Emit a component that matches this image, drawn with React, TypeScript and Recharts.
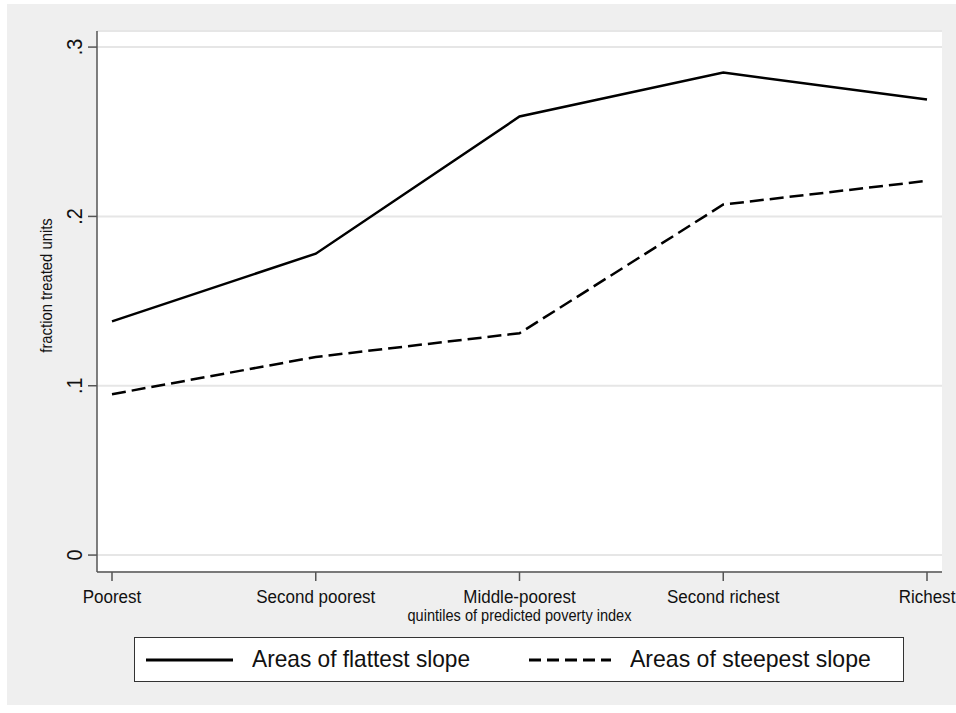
import { LineChart, Line, XAxis, YAxis, CartesianGrid } from 'recharts'

const quintiles = ['Poorest', 'Second poorest', 'Middle-poorest', 'Second richest', 'Richest']
const flattest = [0.138, 0.178, 0.259, 0.285, 0.269]
const steepest = [0.095, 0.117, 0.131, 0.207, 0.221]
const yTicks = [0, 0.1, 0.2, 0.3]
const yTickLabels = ['0', '.1', '.2', '.3']
const seriesNames = ['Areas of flattest slope', 'Areas of steepest slope']
const xTitle = 'quintiles of predicted poverty index'
const yTitle = 'fraction treated units'

const data = quintiles.map((q, i) => ({ q, flat: flattest[i], steep: steepest[i] }))

const FONT = "'Liberation Sans', Arial, sans-serif"
const AXIS = '#555'

// narrow-looking text: stretch font height, squeeze width
function NText({ x, y, rot = 0, sx, size, children }: any) {
  return (
    <text transform={`translate(${x} ${y}) rotate(${rot}) scale(${sx} 1)`} x={0} y={0} textAnchor="middle"
      dominantBaseline="central" fontFamily={FONT} fontSize={size} fill="#111">
      {children}
    </text>
  )
}

function YTick({ x, y, payload }: any) {
  const i = yTicks.indexOf(payload.value)
  return <NText x={x - 12} y={y} rot={-90} sx={0.9} size={22}>{i >= 0 ? yTickLabels[i] : payload.value}</NText>
}

function XTick({ x, y, payload }: any) {
  return <NText x={x} y={y + 14} sx={0.92} size={18.5}>{payload.value}</NText>
}

export default function App() {
  return (
    <div style={{ position: 'absolute', left: 0, top: 0, width: 956, height: 713, background: '#fff', overflow: 'hidden' }}>
      <div style={{ position: 'absolute', left: 7, top: 4, width: 949, height: 701, background: '#efefef' }} />
      <div style={{ position: 'absolute', left: 0, top: 0 }}>
        <LineChart width={956} height={713} data={data} margin={{ top: 31, right: 14, bottom: 81, left: 7 }}>
          <CartesianGrid vertical={false} stroke="#e6e6e6" strokeWidth={2} fill="#fff" fillOpacity={1} />
          <XAxis dataKey="q" type="category" height={60} padding={{ left: 15, right: 15 }} tickSize={9}
            axisLine={{ stroke: AXIS, strokeWidth: 1.5 }} tickLine={{ stroke: AXIS, strokeWidth: 1.5 }}
            tick={<XTick />} interval={0}
            label={{
              content: (p: any) => {
                const vb = p.viewBox
                return <NText x={vb.x + vb.width / 2} y={vb.y + 43} sx={0.91} size={16}>{xTitle}</NText>
              },
            }} />
          <YAxis type="number" domain={[-0.01, 0.3095]} ticks={yTicks} allowDataOverflow width={90} tickSize={9}
            axisLine={{ stroke: AXIS, strokeWidth: 1.5 }} tickLine={{ stroke: AXIS, strokeWidth: 1.5 }}
            tick={<YTick />}
            label={{
              content: (p: any) => {
                const vb = p.viewBox
                return <NText x={46} y={vb.y + vb.height / 2 - 16} rot={-90} sx={0.9} size={16.5}>{yTitle}</NText>
              },
            }} />
          <Line dataKey="flat" name={seriesNames[0]} stroke="#000" strokeWidth={2.5} dot={false} isAnimationActive={false} />
          <Line dataKey="steep" name={seriesNames[1]} stroke="#000" strokeWidth={2.5} strokeDasharray="14 6" dot={false} isAnimationActive={false} />
        </LineChart>
      </div>
      <div style={{
        position: 'absolute', left: 134, top: 637, width: 768, height: 43, border: '1.5px solid #333', background: '#fff',
        fontFamily: FONT, fontSize: 24, color: '#111',
      }}>
        <svg style={{ position: 'absolute', left: 10, top: 0 }} width={90} height={43}>
          <line x1={1} y1={22} x2={88} y2={22} stroke="#000" strokeWidth={3} />
        </svg>
        <span style={{ position: 'absolute', left: 117, top: 6, lineHeight: '30px', whiteSpace: 'nowrap', transform: 'scaleX(0.945)', transformOrigin: 'left center' }}>{seriesNames[0]}</span>
        <svg style={{ position: 'absolute', left: 393, top: 0 }} width={86} height={43}>
          <line x1={1} y1={22} x2={83} y2={22} stroke="#000" strokeWidth={3} strokeDasharray="12 6" />
        </svg>
        <span style={{ position: 'absolute', left: 495, top: 6, lineHeight: '30px', whiteSpace: 'nowrap', transform: 'scaleX(0.96)', transformOrigin: 'left center' }}>{seriesNames[1]}</span>
      </div>
    </div>
  )
}
